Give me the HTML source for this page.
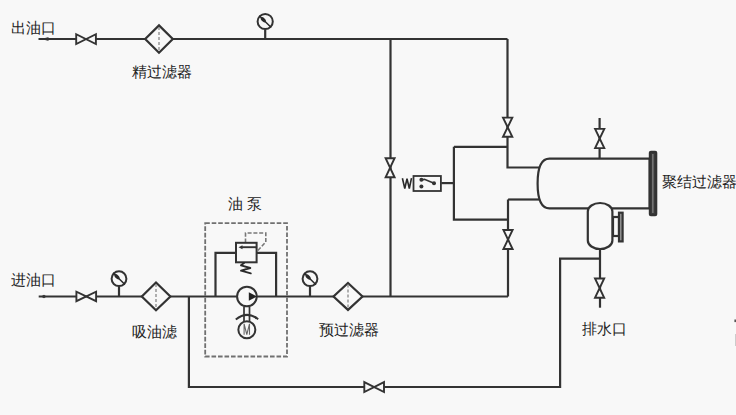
<!DOCTYPE html>
<html><head><meta charset="utf-8">
<style>
html,body{margin:0;padding:0;width:736px;height:415px;overflow:hidden;background:#f8f8f8;}
svg{position:absolute;left:0;top:0;}
.t{position:absolute;font-family:"Liberation Sans",sans-serif;font-size:15px;color:#222;white-space:nowrap;line-height:1;}
</style></head><body>
<svg width="736" height="415" viewBox="0 0 736 415">
<g fill="none" stroke="#333" stroke-width="2.2">
<!-- top pipe -->
<path d="M38.5 39 H507.5"/>
<path d="M390.5 39 V296.5"/>
<path d="M507.5 39 V167.5 H540"/>
<path d="M453.9 146.8 H507.5"/>
<path d="M453.9 146.8 V219.7 H508"/>
<path d="M441.3 183.1 H453.9"/>
<path d="M508 199.5 H540"/>
<path d="M508 199.5 V296.5"/>
<!-- main line -->
<path d="M38.7 296.5 H508"/>
<path d="M188.9 296.5 V387 H560.1 V258.7 H600"/>
<!-- vent -->
<path d="M599.6 118 V158.3"/>
<path d="M600 250 V307.7"/>
<!-- bypass -->
<path d="M215.5 296.5 V252.8 H276.1 V296.5"/>
<!-- stems -->
<path d="M265.2 29.5 V39"/>
<path d="M119 286 V296.5"/>
<path d="M310 286 V296.5"/>
</g>
<!-- arrowheads -->
<path d="M41 39 L48 37.3 L50.5 39 L48 40.7 Z" fill="#333"/>
<path d="M41 296.5 L44 294.8 L46.5 296.5 L44 298.2 Z" fill="#333"/>
<!-- vessel -->
<g fill="#f8f8f8" stroke="#333" stroke-width="2.2">
<path d="M549.5 158.7 H649.6 V208.4 H549.5 C540.5 208.4 537.6 198.5 537.6 183.5 C537.6 168.3 540.5 158.7 549.5 158.7 Z"/>
<rect x="613" y="217" width="6" height="19"/>
<rect x="619" y="212.7" width="3.6" height="28.7" fill="#999"/>
<rect x="587.8" y="203" width="24.6" height="46" rx="12.3" ry="8.5"/>
<rect x="649.9" y="151.8" width="6.3" height="63.4" rx="1" fill="#3a3a3a"/>
</g>
<path d="M652.9 154 V213" stroke="#9a9a9a" stroke-width="1"/>
<!-- valves -->
<g fill="#f8f8f8" stroke="#333" stroke-width="1.9">
<path d="M76.2 34.2 V44 L95.9 34.2 V44 Z"/>
<path d="M76.4 291.7 V301.2 L96.1 291.7 V301.2 Z"/>
<path d="M364.3 382.1 V392 L384 382.1 V392 Z"/>
<path d="M503 117.6 H512.3 L503 136.8 H512.3 Z"/>
<path d="M503.4 230 H512.6 L503.4 249 H512.6 Z"/>
<path d="M385.6 158.2 H394.6 L385.6 177.3 H394.6 Z"/>
<path d="M595.1 128.9 H604.3 L595.1 148.1 H604.3 Z"/>
<path d="M595 278.5 H604.2 L595 297.8 H604.2 Z"/>
</g>
<!-- filters -->
<g fill="#f8f8f8" stroke="#333" stroke-width="2.2">
<path d="M159 25.4 L172.8 39 L159 52.7 L145.2 39 Z"/>
<path d="M156 282.5 L170.4 296.5 L156 310.3 L141.8 296.5 Z"/>
<path d="M348 283 L362.5 296.5 L348 309.9 L333.5 296.5 Z"/>
</g>
<g stroke="#888" stroke-width="1.3" stroke-dasharray="3 2">
<path d="M159 27 V51"/>
<path d="M156 284 V309"/>
<path d="M348 284.5 V308.5"/>
</g>
<!-- gauges -->
<g fill="#f8f8f8" stroke="#333" stroke-width="2">
<circle cx="265.2" cy="21.5" r="7.6"/>
<circle cx="119" cy="278.7" r="7.4"/>
<circle cx="310" cy="278.7" r="7.4"/>
</g>
<path d="M259.80 16.30 L270.70 27.00" stroke="#2a2a2a" stroke-width="1.5" stroke-linecap="round"/>
<ellipse cx="263.30" cy="19.80" rx="3.2" ry="1.7" transform="rotate(45 263.30 19.80)" fill="#2a2a2a"/>
<path d="M113.50 273.30 L124.40 284.00" stroke="#2a2a2a" stroke-width="1.5" stroke-linecap="round"/>
<ellipse cx="117.00" cy="276.80" rx="3.2" ry="1.7" transform="rotate(45 117.00 276.80)" fill="#2a2a2a"/>
<path d="M304.60 273.50 L315.50 284.20" stroke="#2a2a2a" stroke-width="1.5" stroke-linecap="round"/>
<ellipse cx="308.10" cy="277.00" rx="3.2" ry="1.7" transform="rotate(45 308.10 277.00)" fill="#2a2a2a"/>
<!-- W switch -->
<rect x="413.5" y="176" width="27.4" height="15" fill="#f8f8f8" stroke="#333" stroke-width="1.8"/>
<path d="M421.4 179.8 L424.5 179.3 L434 183.3" fill="none" stroke="#333" stroke-width="1.7"/>
<circle cx="421.4" cy="179.8" r="2" fill="#333"/>
<circle cx="434" cy="183.3" r="2" fill="#333"/>
<circle cx="421.4" cy="186.6" r="2" fill="#333"/>
<path d="M402.4 178.2 L404.8 188.5 L407 178.6 L409.3 188.5 L411.5 178.2" fill="none" stroke="#2a2a2a" stroke-width="1.6" stroke-linejoin="miter"/>
<!-- pump dashed box -->
<rect x="205.2" y="223.2" width="81.8" height="133.3" fill="none" stroke="#707070" stroke-width="1.8" stroke-dasharray="4.6 1.9"/>
<!-- relief valve -->
<path d="M245.5 242.5 V233 H265.8 V242 L257.8 250.5" fill="none" stroke="#777" stroke-width="1.6" stroke-dasharray="4 1.8"/>
<rect x="236" y="242.8" width="20.6" height="19.5" fill="#f8f8f8" stroke="#333" stroke-width="2"/>
<path d="M241 247.2 H256" stroke="#333" stroke-width="1.9"/>
<path d="M238.5 247.2 L242.5 245.2 L242.5 249.2 Z" fill="#333"/>
<path d="M244 263 L241 265.3 L250.3 268 L241 270.7 L250.8 273.4" fill="none" stroke="#2a2a2a" stroke-width="1.9" stroke-linejoin="round" stroke-linecap="round"/>
<!-- pump -->
<circle cx="246.9" cy="296.5" r="9.8" fill="#f8f8f8" stroke="#333" stroke-width="2"/>
<path d="M248.8 292.3 L256.8 296.5 L248.8 300.7 Z" fill="#222"/>
<path d="M244 306.4 V321 M249.5 306.4 V321" stroke="#333" stroke-width="1.7"/>
<path d="M235.8 319.6 Q247 310.4 258.2 319.2" fill="none" stroke="#333" stroke-width="2"/>
<path d="M253.5 315.4 L257.5 317.2 L255.6 319.2 Z" fill="#333"/>
<circle cx="246.85" cy="329.7" r="8.5" fill="#f8f8f8" stroke="#333" stroke-width="2"/>
<path d="M244.1 334.8 V323.8 L246.8 334.5 L249.5 323.8 V334.8" fill="none" stroke="#666" stroke-width="1.1"/>
<rect x="734.4" y="319.5" width="1.6" height="2.6" fill="#555"/>
<rect x="735" y="334" width="1" height="12" fill="#ccc"/>
</svg>
<div class="t" style="left:11px;top:20px;">出油口</div>
<div class="t" style="left:132px;top:64px;">精过滤器</div>
<div class="t" style="left:228px;top:196px;">油&nbsp;泵</div>
<div class="t" style="left:11px;top:272px;">进油口</div>
<div class="t" style="left:132px;top:324px;">吸油滤</div>
<div class="t" style="left:319px;top:322px;">预过滤器</div>
<div class="t" style="left:582px;top:321px;">排水口</div>
<div class="t" style="left:662px;top:174px;">聚结过滤器</div>
</body></html>
